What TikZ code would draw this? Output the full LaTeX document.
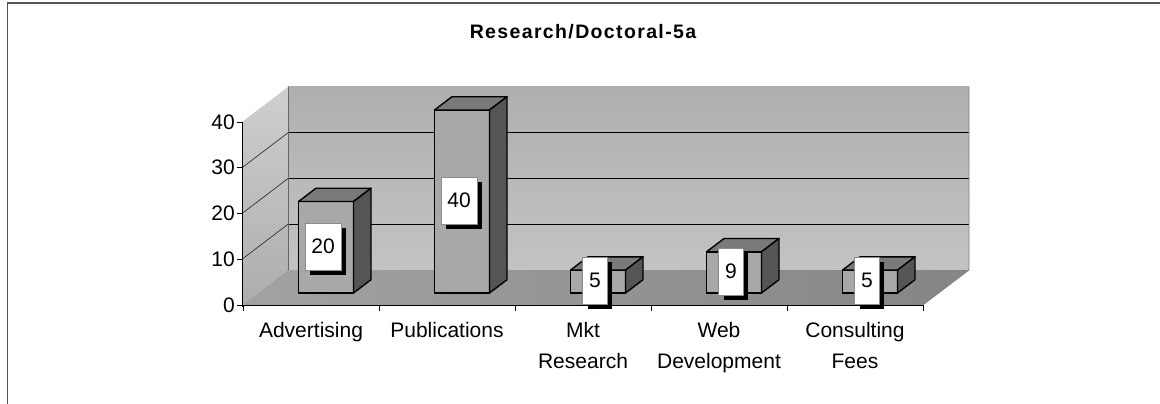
\documentclass[tikz,border=0pt]{standalone}
\usepackage{fontspec}
\setmainfont{Liberation Sans}
\usetikzlibrary{shadows}
\definecolor{framecol}{HTML}{555555}
\definecolor{wallTop}{HTML}{AFAFAF}
\definecolor{wallBot}{HTML}{C3C3C3}
\definecolor{sideTop}{HTML}{CFCFCF}
\definecolor{sideBot}{HTML}{ADADAD}
\definecolor{floorL}{HTML}{A2A2A2}
\definecolor{floorR}{HTML}{858585}
\definecolor{barFront}{HTML}{A8A8A8}
\definecolor{barTop}{HTML}{7A7A7A}
\definecolor{barSide}{HTML}{555555}
\tikzset{
  lab/.style={font=\fontsize{21}{31}\selectfont, inner sep=0pt},
  catlabel/.style={lab, anchor=north, align=center},
  ylabel/.style={lab, anchor=east},
  vlabel/.style={lab, fill=white, draw=black!45, line width=0.5pt,
    inner xsep=6.5pt, minimum height=47pt,
    drop shadow={shadow xshift=5pt, shadow yshift=-5pt, fill=black, opacity=1}},
  grid line/.style={black, line width=0.7pt},
  axis line/.style={black, line width=1pt},
  bar edge/.style={black, line width=1.4pt, line join=round},
}
\begin{document}
\begin{tikzpicture}[x=1pt, y=-1pt]
\useasboundingbox (0,0) rectangle (1160,404);
\fill[white] (0,0) rectangle (1160,404);
% frame
\draw[framecol, line width=1.2pt] (7.5,404) -- (7.5,3) -- (1160,3);
% title
\node[font=\bfseries\fontsize{19.5}{24}\selectfont\addfontfeature{LetterSpace=7}, anchor=base, inner sep=0pt] (title) at (583,39) {Research/Doctoral-5a};
% back wall
\shade[top color=wallTop, bottom color=wallBot] (288,87) rectangle (969,270);
% side wall
\shade[top color=sideTop, bottom color=sideBot] (242,305) -- (242,122) -- (288,87) -- (288,270) -- cycle;
% floor
\shade[left color=floorL, right color=floorR] (242,305) -- (923,305) -- (969,270) -- (288,270) -- cycle;
% gridlines
\foreach \k in {1,2,3} {
  \draw[grid line] (288,{270-45.75*\k}) -- (969,{270-45.75*\k});
  \draw[grid line, black!80] (242,{305-45.75*\k}) -- (288,{270-45.75*\k});
}
\draw[black!60, line width=0.6pt] (288,87) -- (288,270);
\draw[black!50, line width=0.6pt] (969,87) -- (969,270) -- (923,305);
% axes
\draw[axis line] (242,122) -- (242,307);
\draw[axis line] (242,305) -- (923,305);
\foreach \k in {0,...,4} \draw[axis line] (237,{305-45.75*\k}) -- (242,{305-45.75*\k});
\foreach \k in {0,...,5} \draw[axis line] ({243+136*\k},305) -- ({243+136*\k},311);
% y labels
\node[ylabel] (y0) at (235,305) {0};
\node[ylabel] (y10) at (235,259.25) {10};
\node[ylabel] (y20) at (235,213.5) {20};
\node[ylabel] (y30) at (235,167.75) {30};
\node[ylabel] (y40) at (235,122) {40};
% bars
\foreach \i/\v in {0/20, 1/40, 2/5, 3/9, 4/5} {
  \pgfmathsetmacro{\xl}{311+136*\i+15-27.5}
  \pgfmathsetmacro{\xr}{\xl+55}
  \pgfmathsetmacro{\yt}{293-4.575*\v}
  \pgfmathsetmacro{\hh}{4.575*\v}
  \filldraw[bar edge, fill=barFront] (\xl,293) rectangle (\xr,\yt);
  \filldraw[bar edge, fill=barTop] (\xl,\yt) -- ++(17.5,-13.3) -- ++(55,0) -- (\xr,\yt) -- cycle;
  \filldraw[bar edge, fill=barSide] (\xr,293) -- (\xr,\yt) -- ++(17.5,-13.3) -- ++(0,\hh) -- cycle;
}
% value labels
\foreach \i/\v/\n in {0/20/adv, 1/40/pub, 2/5/mkt, 3/9/web, 4/5/con} {
  \node[vlabel] (val-\n) at ({311+136*\i+15-3},{293-4.575*\v/2-1}) {\v};
}
% category labels
\node[catlabel] (cat-adv) at (311,322.5) {Advertising};
\node[catlabel] (cat-pub) at (447,322.5) {Publications};
\node[catlabel] (cat-mkt) at (583,322.5) {Mkt\\Research};
\node[catlabel] (cat-web) at (719,322.5) {Web\\Development};
\node[catlabel] (cat-con) at (855,322.5) {Consulting\\Fees};
\end{tikzpicture}
\end{document}
